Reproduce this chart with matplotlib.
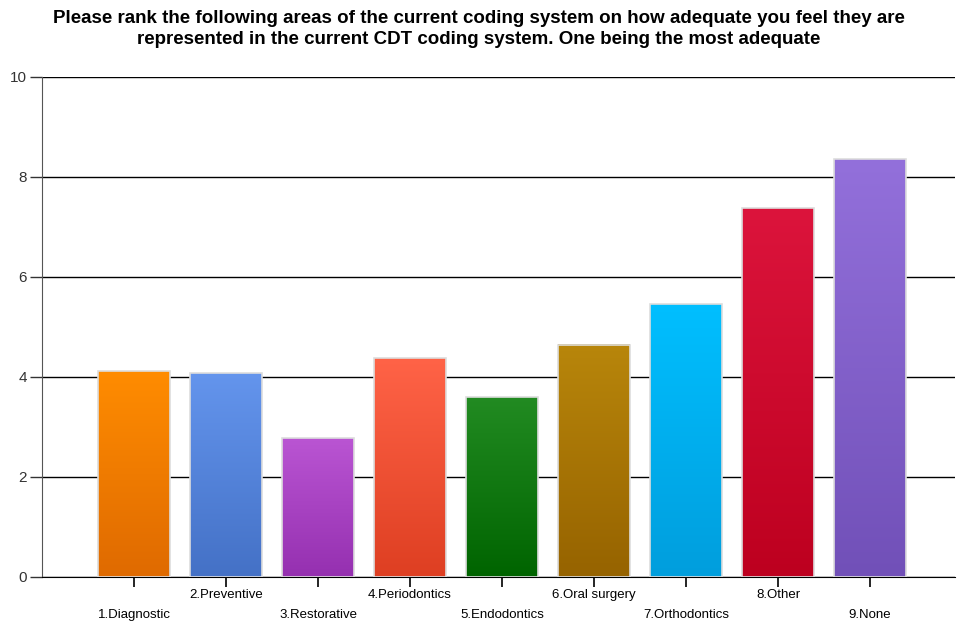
import numpy as np
import matplotlib.pyplot as plt
from matplotlib import colors as mcolors

plt.rcParams['font.family'] = ['Liberation Sans', 'DejaVu Sans']

# data
categories = ['1.Diagnostic', '2.Preventive', '3.Restorative', '4.Periodontics',
              '5.Endodontics', '6.Oral surgery', '7.Orthodontics', '8.Other', '9.None']
values = [4.12, 4.09, 2.79, 4.38, 3.61, 4.65, 5.47, 7.39, 8.36]
top_colors = ['#FF8C00', '#6495ED', '#BA55D3', '#FF6347', '#228B22',
              '#B8860B', '#00BFFF', '#DC143C', '#9370DB']
bottom_colors = ['#DF6A00', '#4471C6', '#9530B0', '#DE3F22', '#006400',
                 '#966300', '#009EDD', '#BD001F', '#7150B8']

title = ('Please rank the following areas of the current coding system on how adequate you feel they are\n'
         'represented in the current CDT coding system. One being the most adequate')

fig = plt.figure(figsize=(9.57, 6.23), dpi=100)
ax = fig.add_axes([42 / 957, 46 / 623, 913 / 957, 500 / 623])

x = np.arange(1, len(values) + 1)
bars = ax.bar(x, values, width=0.78, color='none', edgecolor='#DDDDDD', linewidth=1.2, zorder=3)

# vertical gradient inside each bar
for bar, c_top, c_bot in zip(bars, top_colors, bottom_colors):
    cmap = mcolors.LinearSegmentedColormap.from_list('g', [c_bot, c_top])
    grad = np.linspace(0, 1, 256).reshape(-1, 1)
    x0, w, h = bar.get_x(), bar.get_width(), bar.get_height()
    im = ax.imshow(grad, cmap=cmap, origin='lower', aspect='auto',
                   extent=[x0, x0 + w, 0, h], zorder=2)
    im.set_clip_path(bar)

ax.set_xlim(0, 913 / 92)
ax.set_ylim(0, 10)
ax.set_yticks([0, 2, 4, 6, 8, 10])
ax.yaxis.grid(True, color='black', linewidth=1.0, zorder=1)
ax.set_axisbelow(True)

for s in ['top', 'right']:
    ax.spines[s].set_visible(False)
ax.spines['left'].set_color('#555555')
ax.spines['bottom'].set_color('black')

ax.tick_params(axis='y', length=9, width=1, color='#333333', labelsize=11,
               labelcolor='#333333', pad=2)

# staggered category labels: even ones on major ticks, odd ones on minor ticks
ax.set_xticks(x[1::2])
ax.set_xticklabels(categories[1::2])
ax.set_xticks(x[0::2], minor=True)
ax.set_xticklabels(categories[0::2], minor=True)
ax.tick_params(axis='x', which='major', length=7, width=1.2, labelsize=9.5, pad=1.5)
ax.tick_params(axis='x', which='minor', length=7, width=1.2, labelsize=9.5, pad=16)

fig.text(0.5, 1 - 10 / 623, title, ha='center', va='top', fontsize=13.5,
         fontweight='bold', linespacing=1.3)

fig.savefig('out.png', dpi=100)
